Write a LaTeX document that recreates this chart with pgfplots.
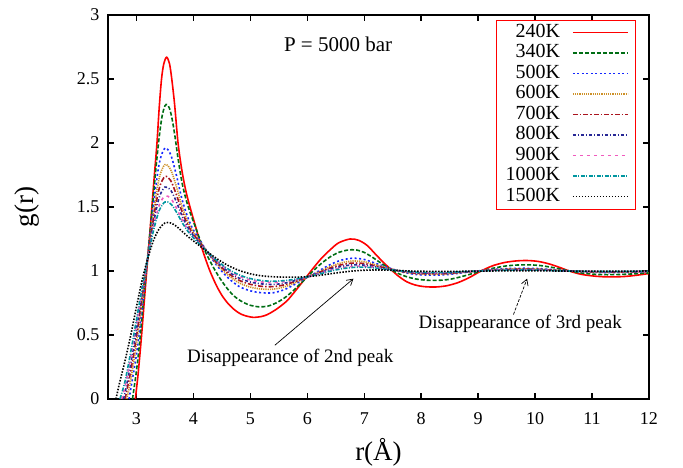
\documentclass[border=0pt]{standalone}
\usepackage{fontspec}
\setmainfont{Liberation Serif}
\usepackage{pgfplots}
\pgfplotsset{compat=1.18}
\usetikzlibrary{arrows.meta}
\definecolor{c340}{RGB}{0,110,20}
\definecolor{c500}{RGB}{20,40,255}
\definecolor{c600}{RGB}{205,145,40}
\definecolor{c700}{RGB}{170,20,30}
\definecolor{c800}{RGB}{40,40,150}
\definecolor{c900}{RGB}{240,90,190}
\definecolor{c1000}{RGB}{0,150,160}
\begin{document}
\begin{tikzpicture}
\path[use as bounding box] (-108bp,-69bp) rectangle (575bp,399bp);
\begin{axis}[
 at={(0,0)}, anchor=south west,
 scale only axis, width=541bp, height=384bp,
 xmin=2.5, xmax=12, ymin=0, ymax=3,
 xtick={3,4,...,12}, ytick={0,0.5,1,1.5,2,2.5,3},
 tick align=inside, major tick length=6bp,
 tick style={line width=1.5bp, black},
 axis line style={line width=1.8bp},
 /pgf/number format/assume math mode=true,
 tick label style={font=\fontsize{18bp}{20bp}\selectfont},
 xticklabel style={yshift=-10bp},
 yticklabel style={xshift=-5bp},
 xlabel={r(Å)}, ylabel={g(r)},
 label style={font=\fontsize{27bp}{30bp}\selectfont},
 xlabel style={at={(axis description cs:0.5,-0.138)}, anchor=center},
 ylabel style={at={(axis description cs:-0.15,0.5)}, anchor=center},
 legend plot pos=right,
 legend image code/.code={\draw[#1] (0bp,0bp) -- (55bp,0bp);},
 legend style={at={(1,1)}, anchor=north east, xshift=-13bp, yshift=-5bp,
   draw=red, line width=0.8bp, font=\fontsize{20bp}{20bp}\selectfont,
   row sep=0bp, /tikz/column sep=10bp, inner xsep=7bp, inner ysep=2bp,
   nodes={inner sep=2bp, text height=13bp, text depth=3.5bp},
   cells={anchor=east}},
 every axis plot/.append style={line width=1.6bp},
]
\addplot[red, smooth] coordinates {(2.98,0)(3.03,0.2)(3.09,0.5)(3.14,0.78)(3.18,1.0)(3.23,1.27)(3.27,1.5)(3.32,1.78)(3.36,2.0)(3.40,2.28)(3.44,2.5)(3.48,2.62)(3.53,2.67)(3.58,2.62)(3.62,2.5)(3.67,2.3)(3.73,2.0)(3.8,1.78)(3.87,1.62)(3.94,1.5)(4.03,1.36)(4.12,1.22)(4.2,1.11)(4.29,1.0)(4.4,0.89)(4.5,0.81)(4.6,0.75)(4.7,0.705)(4.8,0.672)(4.9,0.652)(5.05,0.638)(5.2,0.645)(5.3,0.66)(5.4,0.685)(5.5,0.715)(5.65,0.77)(5.8,0.85)(5.96,0.94)(6.1,1.02)(6.25,1.1)(6.4,1.165)(6.55,1.22)(6.75,1.25)(6.9,1.24)(7.05,1.2)(7.2,1.13)(7.33,1.07)(7.46,1.015)(7.6,0.96)(7.75,0.915)(7.9,0.89)(8.05,0.878)(8.25,0.875)(8.45,0.885)(8.65,0.91)(8.85,0.95)(9.05,1.0)(9.25,1.04)(9.45,1.065)(9.65,1.078)(9.85,1.082)(10.05,1.075)(10.25,1.055)(10.45,1.025)(10.6,1.0)(10.8,0.975)(11.0,0.962)(11.2,0.955)(11.4,0.954)(11.6,0.958)(11.8,0.968)(12.0,0.98)};
\addlegendentry{240K}
\addplot[c340, smooth, dash pattern=on 4bp off 2bp] coordinates {(2.93,0)(3.0,0.22)(3.05,0.42)(3.1,0.66)(3.15,0.9)(3.2,1.13)(3.25,1.36)(3.3,1.6)(3.35,1.84)(3.4,2.05)(3.45,2.21)(3.5,2.29)(3.54,2.30)(3.58,2.27)(3.62,2.2)(3.67,2.07)(3.73,1.88)(3.8,1.69)(3.87,1.56)(3.94,1.46)(4.03,1.35)(4.12,1.24)(4.2,1.16)(4.3,1.07)(4.4,0.99)(4.5,0.92)(4.6,0.86)(4.7,0.81)(4.8,0.775)(4.9,0.75)(5.0,0.732)(5.15,0.72)(5.3,0.725)(5.45,0.75)(5.6,0.79)(5.75,0.845)(5.9,0.91)(6.0,0.955)(6.1,1.0)(6.25,1.06)(6.4,1.11)(6.55,1.145)(6.7,1.163)(6.85,1.165)(7.0,1.145)(7.15,1.105)(7.3,1.06)(7.46,1.015)(7.6,0.98)(7.75,0.955)(7.9,0.938)(8.1,0.928)(8.3,0.927)(8.5,0.935)(8.7,0.955)(8.9,0.98)(9.1,1.005)(9.3,1.025)(9.5,1.04)(9.7,1.047)(9.9,1.048)(10.1,1.042)(10.3,1.028)(10.5,1.01)(10.7,0.992)(10.9,0.98)(11.1,0.973)(11.3,0.971)(11.5,0.973)(11.7,0.977)(11.9,0.982)(12.0,0.985)};
\addlegendentry{340K}
\addplot[c500, smooth, dash pattern=on 2bp off 2.5bp] coordinates {(2.87,0)(2.9,0.08)(3.0,0.35)(3.1,0.72)(3.2,1.12)(3.3,1.52)(3.4,1.84)(3.5,1.96)(3.6,1.91)(3.7,1.75)(3.8,1.56)(3.9,1.42)(4.0,1.32)(4.2,1.18)(4.4,1.05)(4.6,0.95)(4.8,0.88)(5.0,0.845)(5.2,0.83)(5.4,0.83)(5.6,0.855)(5.8,0.9)(6.0,0.95)(6.2,1.0)(6.4,1.05)(6.6,1.085)(6.8,1.1)(7.0,1.09)(7.2,1.06)(7.4,1.03)(7.6,1.0)(7.8,0.98)(8.0,0.97)(8.4,0.97)(8.8,0.99)(9.2,1.01)(9.6,1.02)(10.0,1.02)(10.4,1.008)(10.8,0.995)(11.2,0.988)(11.6,0.99)(12.0,0.995)};
\addlegendentry{500K}
\addplot[c600, smooth, dash pattern=on 1.2bp off 1bp] coordinates {(2.83,0)(2.9,0.15)(3.0,0.43)(3.1,0.77)(3.2,1.116)(3.3,1.458)(3.4,1.728)(3.5,1.831)(3.6,1.792)(3.7,1.662)(3.8,1.505)(3.9,1.387)(4.0,1.301)(4.2,1.177)(4.4,1.061)(4.6,0.971)(4.8,0.908)(5.0,0.874)(5.2,0.859)(5.4,0.858)(5.6,0.876)(5.8,0.911)(6.0,0.951)(6.2,0.992)(6.4,1.034)(6.6,1.064)(6.8,1.078)(7.0,1.072)(7.2,1.049)(7.4,1.025)(7.6,1.001)(7.8,0.984)(8.0,0.976)(8.4,0.976)(8.8,0.992)(9.2,1.008)(9.6,1.016)(10.0,1.016)(10.4,1.006)(10.8,0.996)(11.2,0.99)(11.6,0.992)(12.0,0.996)};
\addlegendentry{600K}
\addplot[c700, smooth, dash pattern=on 5bp off 2bp on 1.5bp off 2bp] coordinates {(2.80,0)(2.9,0.22)(3.0,0.49)(3.1,0.80)(3.2,1.112)(3.3,1.414)(3.4,1.646)(3.5,1.738)(3.6,1.707)(3.7,1.598)(3.8,1.465)(3.9,1.363)(4.0,1.288)(4.2,1.174)(4.4,1.069)(4.6,0.986)(4.8,0.928)(5.0,0.896)(5.2,0.88)(5.4,0.878)(5.6,0.892)(5.8,0.92)(6.0,0.952)(6.2,0.987)(6.4,1.023)(6.6,1.049)(6.8,1.062)(7.0,1.058)(7.2,1.04)(7.4,1.021)(7.6,1.002)(7.8,0.988)(8.0,0.981)(8.4,0.98)(8.8,0.993)(9.2,1.006)(9.6,1.013)(10.0,1.013)(10.4,1.005)(10.8,0.997)(11.2,0.992)(11.6,0.993)(12.0,0.997)};
\addlegendentry{700K}
\addplot[c800, smooth, dash pattern=on 3bp off 2bp on 1bp off 2bp] coordinates {(2.77,0)(2.8,0.05)(2.9,0.28)(3.0,0.54)(3.1,0.83)(3.2,1.11)(3.3,1.374)(3.4,1.575)(3.5,1.656)(3.6,1.632)(3.7,1.542)(3.8,1.43)(3.9,1.342)(4.0,1.276)(4.2,1.172)(4.4,1.076)(4.6,0.999)(4.8,0.945)(5.0,0.914)(5.2,0.899)(5.4,0.895)(5.6,0.905)(5.8,0.927)(6.0,0.953)(6.2,0.982)(6.4,1.013)(6.6,1.036)(6.8,1.048)(7.0,1.046)(7.2,1.033)(7.4,1.018)(7.6,1.002)(7.8,0.99)(8.0,0.985)(8.4,0.984)(8.8,0.994)(9.2,1.005)(9.6,1.011)(10.0,1.011)(10.4,1.004)(10.8,0.997)(11.2,0.994)(11.6,0.995)(12.0,0.997)};
\addlegendentry{800K}
\addplot[c900, smooth, dash pattern=on 3bp off 4bp] coordinates {(2.74,0)(2.8,0.1)(2.9,0.33)(3.0,0.59)(3.1,0.855)(3.2,1.107)(3.3,1.341)(3.4,1.514)(3.5,1.586)(3.6,1.568)(3.7,1.494)(3.8,1.40)(3.9,1.324)(4.0,1.266)(4.2,1.17)(4.4,1.082)(4.6,1.011)(4.8,0.96)(5.0,0.93)(5.2,0.914)(5.4,0.91)(5.6,0.917)(5.8,0.933)(6.0,0.954)(6.2,0.978)(6.4,1.004)(6.6,1.024)(6.8,1.036)(7.0,1.036)(7.2,1.027)(7.4,1.015)(7.6,1.003)(7.8,0.993)(8.0,0.988)(8.4,0.987)(8.8,0.995)(9.2,1.004)(9.6,1.008)(10.0,1.008)(10.4,1.003)(10.8,0.998)(11.2,0.995)(11.6,0.996)(12.0,0.998)};
\addlegendentry{900K}
\addplot[c1000, smooth, dash pattern=on 4bp off 1.5bp on 1bp off 1.5bp] coordinates {(2.71,0)(2.8,0.14)(2.9,0.37)(3.0,0.62)(3.1,0.87)(3.2,1.106)(3.3,1.318)(3.4,1.473)(3.5,1.539)(3.6,1.525)(3.7,1.462)(3.8,1.38)(3.9,1.312)(4.0,1.259)(4.2,1.169)(4.4,1.086)(4.6,1.018)(4.8,0.97)(5.0,0.941)(5.2,0.925)(5.4,0.92)(5.6,0.925)(5.8,0.937)(6.0,0.954)(6.2,0.975)(6.4,0.998)(6.6,1.017)(6.8,1.028)(7.0,1.03)(7.2,1.023)(7.4,1.013)(7.6,1.003)(7.8,0.994)(8.0,0.99)(8.4,0.989)(8.8,0.996)(9.2,1.003)(9.6,1.007)(10.0,1.007)(10.4,1.002)(10.8,0.998)(11.2,0.996)(11.6,0.997)(12.0,0.999)};
\addlegendentry{1000K}
\addplot[black, smooth, dash pattern=on 1.5bp off 1.5bp] coordinates {(2.64,0)(2.7,0.12)(2.8,0.3)(2.9,0.5)(3.0,0.72)(3.1,0.93)(3.2,1.1)(3.3,1.24)(3.4,1.33)(3.5,1.375)(3.6,1.375)(3.7,1.35)(3.8,1.31)(3.9,1.27)(4.0,1.235)(4.2,1.165)(4.4,1.1)(4.6,1.045)(4.8,1.005)(5.0,0.978)(5.2,0.962)(5.4,0.955)(5.6,0.952)(5.8,0.952)(6.0,0.956)(6.2,0.965)(6.4,0.978)(6.6,0.99)(6.8,1.0)(7.0,1.006)(7.2,1.008)(7.4,1.007)(7.6,1.004)(7.8,1.0)(8.0,0.998)(8.4,0.997)(8.8,0.998)(9.2,1.0)(9.6,1.002)(10.0,1.002)(10.4,1.0)(10.8,0.999)(11.2,0.999)(11.6,0.999)(12.0,1.0)};
\addlegendentry{1500K}
\node[font=\fontsize{21bp}{22bp}\selectfont] at (axis cs:6.54,2.77) {P = 5000 bar};
\node[font=\fontsize{19bp}{20bp}\selectfont] at (axis cs:5.70,0.32) {Disappearance of 2nd peak};
\node[font=\fontsize{19bp}{20bp}\selectfont] at (axis cs:9.74,0.586) {Disappearance of 3rd peak};
\draw[-{Straight Barb[length=6bp,width=7bp]}, line width=0.7bp] (axis cs:5.43,0.42) -- (axis cs:6.81,0.94);
\draw[-{Straight Barb[length=6bp,width=7bp]}, line width=0.7bp, dash pattern=on 3bp off 1.5bp] (axis cs:9.62,0.66) -- (axis cs:9.86,0.94);
\end{axis}
\end{tikzpicture}
\end{document}
